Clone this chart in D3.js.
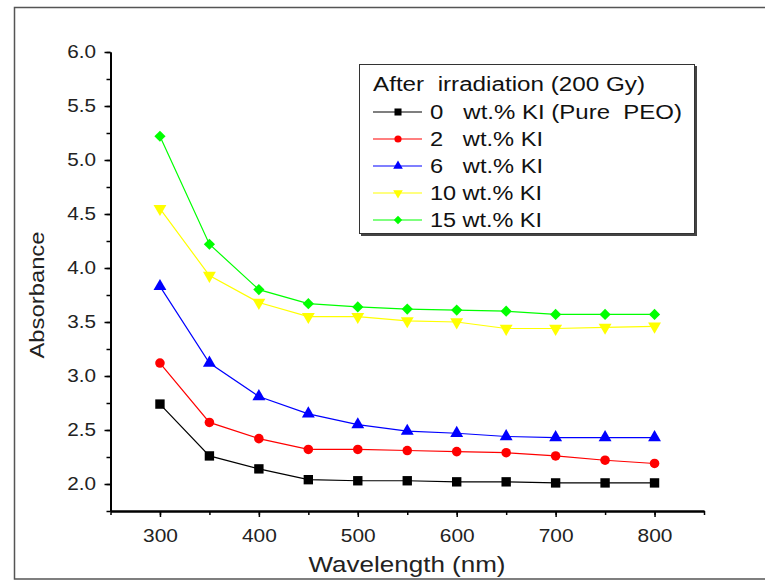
<!DOCTYPE html>
<html>
<head>
<meta charset="utf-8">
<script src="https://cdn.jsdelivr.net/npm/d3@7"></script>
<style>
  body { margin: 0; background: #fff; }
  svg { font-family: "Liberation Sans", Arial, sans-serif; }
</style>
</head>
<body>
<svg id="chart" width="765" height="581"></svg>
<script>
// Data
const wavelengths = [300, 350, 400, 450, 500, 550, 600, 650, 700, 750, 800];
const pureKI0 = [2.74, 2.26, 2.14, 2.04, 2.03, 2.03, 2.02, 2.02, 2.01, 2.01, 2.01];
const ki2 = [3.12, 2.57, 2.42, 2.32, 2.32, 2.31, 2.30, 2.29, 2.26, 2.22, 2.19];
const ki6 = [3.83, 3.12, 2.81, 2.65, 2.55, 2.49, 2.47, 2.44, 2.43, 2.43, 2.43];
const ki10 = [4.55, 3.93, 3.68, 3.55, 3.55, 3.51, 3.50, 3.44, 3.44, 3.45, 3.46];
const ki15 = [5.22, 4.22, 3.80, 3.67, 3.64, 3.62, 3.61, 3.60, 3.57, 3.57, 3.57];
const seriesLabels = ["0   wt.% KI (Pure  PEO)", "2   wt.% KI", "6   wt.% KI", "10 wt.% KI", "15 wt.% KI"];
const legendTitle = "After  irradiation (200 Gy)";
const xTicks = [300, 400, 500, 600, 700, 800];
const yTicks = [2.0, 2.5, 3.0, 3.5, 4.0, 4.5, 5.0, 5.5, 6.0];

const series = [
  { name: seriesLabels[0], values: pureKI0, color: "#000000", shape: "square" },
  { name: seriesLabels[1], values: ki2, color: "#ff0000", shape: "circle" },
  { name: seriesLabels[2], values: ki6, color: "#0000ff", shape: "triangle" },
  { name: seriesLabels[3], values: ki10, color: "#ffff00", shape: "triangleDown" },
  { name: seriesLabels[4], values: ki15, color: "#00ff00", shape: "diamond" }
];

const svg = d3.select("#chart");

// the original font is drawn a bit wider than Liberation Sans
function stretch(sel, f) {
  sel.each(function() {
    const w = this.getComputedTextLength();
    d3.select(this).attr("textLength", w * f).attr("lengthAdjust", "spacingAndGlyphs");
  });
}
function fitWidth(sel, w) {
  sel.attr("textLength", w).attr("lengthAdjust", "spacingAndGlyphs");
}

// outer frame
svg.append("rect")
  .attr("x", 14.5).attr("y", 7.5)
  .attr("width", 800).attr("height", 571.5)
  .attr("fill", "none").attr("stroke", "#555").attr("stroke-width", 1.5);

const x = d3.scaleLinear().domain([250, 850]).range([110.5, 704]);
const y = d3.scaleLinear().domain([1.75, 6.0]).range([511, 52]);

const g = svg.append("g");

// axes
const xAxis = d3.axisBottom(x).tickValues(xTicks).tickFormat(d3.format("d")).tickSize(6).tickSizeOuter(0);
const xMinor = d3.axisBottom(x).tickValues(d3.range(250, 851, 50)).tickFormat("").tickSize(4).tickSizeOuter(0);
const yAxis = d3.axisLeft(y).tickValues(yTicks).tickFormat(d3.format(".1f")).tickSize(6).tickSizeOuter(0);
const yMinor = d3.axisLeft(y).tickValues(d3.range(1.75, 6.01, 0.25)).tickFormat("").tickSize(4).tickSizeOuter(0);

function styleAxis(sel) {
  sel.select(".domain").attr("stroke", "#000").attr("stroke-width", 1.8);
  sel.selectAll(".tick line").attr("stroke", "#000").attr("stroke-width", 1.5);
  sel.selectAll("text").attr("fill", "#222").attr("font-size", 18).attr("font-family", null);
}

g.append("g").attr("transform", "translate(0,511)").call(xMinor).call(styleAxis);
g.append("g").attr("transform", "translate(0,511)").call(xAxis).call(styleAxis)
  .selectAll("text").attr("font-size", 19).attr("dy", "1.15em").call(stretch, 1.1);
g.append("g").attr("transform", "translate(110.5,0)").call(yMinor).call(styleAxis);
g.append("g").attr("transform", "translate(110.5,0)").call(yAxis).call(styleAxis)
  .selectAll("text").attr("dx", "-0.3em").call(stretch, 1.15);

// axis titles
svg.append("text")
  .attr("x", 407).attr("y", 572)
  .attr("text-anchor", "middle")
  .attr("font-size", 22).attr("fill", "#222")
  .text("Wavelength (nm)")
  .call(fitWidth, 197);
svg.append("text")
  .attr("transform", "translate(44,295) rotate(-90)")
  .attr("text-anchor", "middle")
  .attr("font-size", 21).attr("fill", "#222")
  .text("Absorbance")
  .call(fitWidth, 127);

// marker symbols
function symbolPath(shape) {
  if (shape === "square") return d3.symbol(d3.symbolSquare, 88)();
  if (shape === "circle") return d3.symbol(d3.symbolCircle, 72)();
  if (shape === "triangle") return d3.symbol(d3.symbolTriangle, 72)();
  if (shape === "triangleDown") return d3.symbol(d3.symbolTriangle, 72)();
  return d3.symbol(d3.symbolDiamond2, 80)();
}
function symbolTransform(shape, px, py) {
  let t = `translate(${px},${py})`;
  if (shape === "triangleDown") t += " rotate(180)";
  return t;
}

const line = d3.line()
  .x((d, i) => x(wavelengths[i]))
  .y(d => y(d));

series.forEach(s => {
  g.append("path")
    .datum(s.values)
    .attr("d", line)
    .attr("fill", "none")
    .attr("stroke", s.color)
    .attr("stroke-width", 1.2);
  g.append("g").selectAll("path")
    .data(s.values)
    .join("path")
    .attr("d", symbolPath(s.shape))
    .attr("transform", (d, i) => symbolTransform(s.shape, x(wavelengths[i]), y(d)))
    .attr("fill", s.color);
});

// legend
const legend = svg.append("g");
legend.append("rect")
  .attr("x", 361).attr("y", 66).attr("width", 336).attr("height", 170)
  .attr("fill", "#444");
legend.append("rect")
  .attr("x", 359.5).attr("y", 64.5).attr("width", 335).attr("height", 169)
  .attr("fill", "#fff").attr("stroke", "#333").attr("stroke-width", 1);
legend.append("text")
  .attr("x", 373).attr("y", 91)
  .attr("font-size", 20).attr("fill", "#111")
  .style("white-space", "pre")
  .text(legendTitle)
  .call(fitWidth, 272);

const rowWidths = [252, 113, 113, 112, 112];
series.forEach((s, i) => {
  const cy = 112 + i * 27;
  legend.append("line")
    .attr("x1", 373).attr("x2", 422).attr("y1", cy).attr("y2", cy)
    .attr("stroke", s.color).attr("stroke-width", 1.2);
  legend.append("path")
    .attr("d", symbolPath(s.shape))
    .attr("transform", symbolTransform(s.shape, 398, cy) + " scale(0.75)")
    .attr("fill", s.color);
  legend.append("text")
    .attr("x", 430).attr("y", cy + 7)
    .attr("font-size", 20).attr("fill", "#111")
    .style("white-space", "pre")
    .text(s.name)
    .call(fitWidth, rowWidths[i]);
});
</script>
</body>
</html>
